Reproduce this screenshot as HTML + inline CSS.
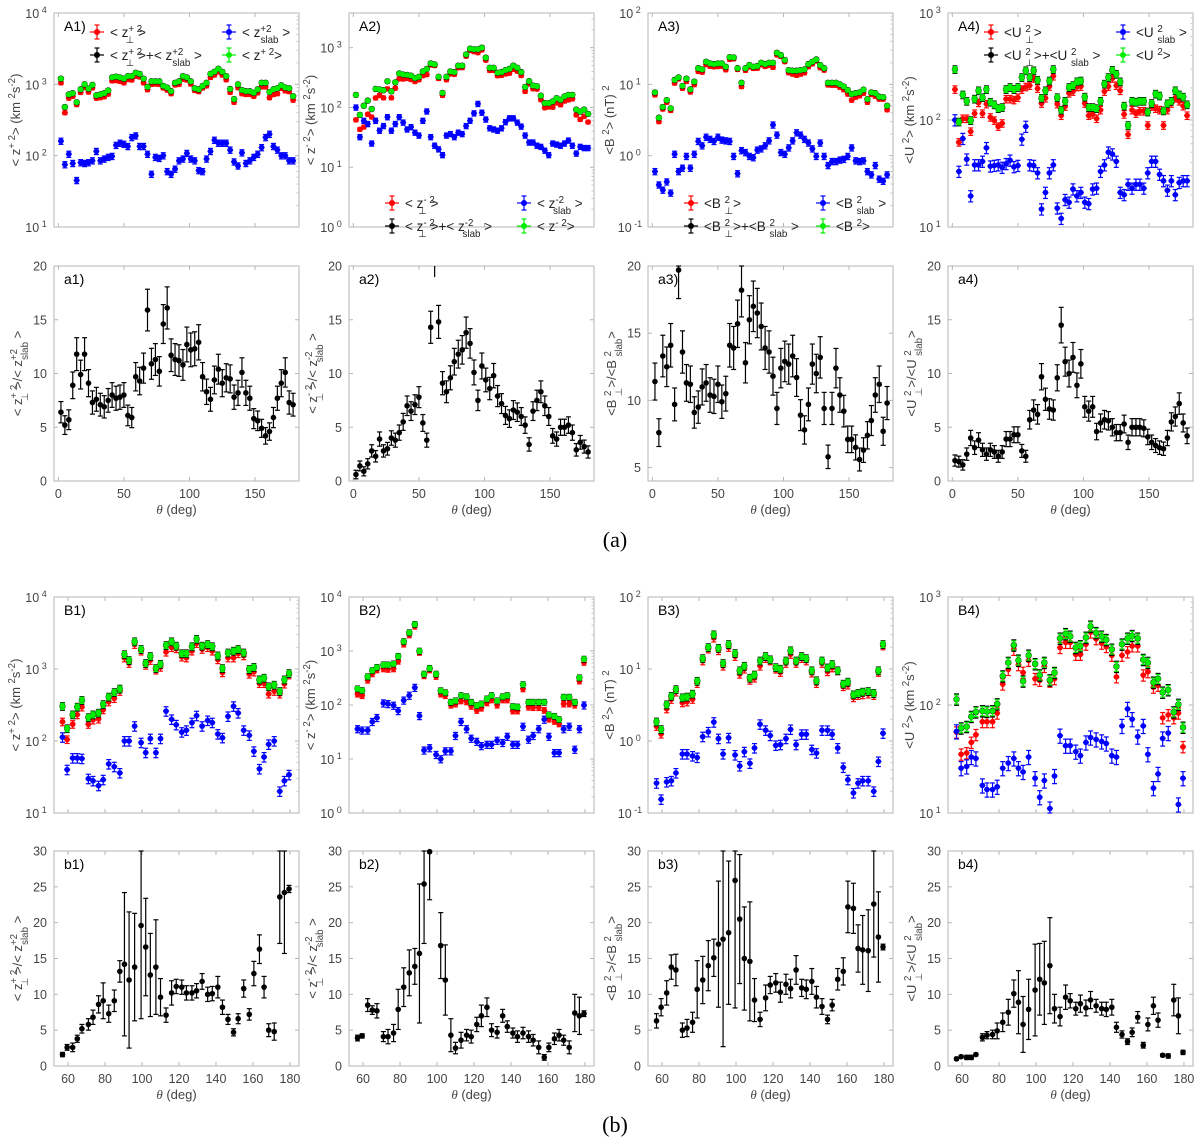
<!DOCTYPE html>
<html><head><meta charset="utf-8">
<style>
html,body{margin:0;padding:0;background:#fff;}
svg{display:block;font-family:"Liberation Sans",sans-serif;}
.tk{font-size:12.5px;fill:#444;}
.yl{font-size:13px;fill:#444;}
.pl{font-size:14px;fill:#000;}
.lg{font-size:13.5px;fill:#222;}
.cap{font-family:"Liberation Serif",serif;font-size:22px;fill:#000;}
</style></head>
<body>
<svg id="fig" width="1200" height="1142" viewBox="0 0 1200 1142" xmlns="http://www.w3.org/2000/svg">
<text class="cap" x="615" y="547" text-anchor="middle">(a)</text>
<text class="cap" x="615" y="1132" text-anchor="middle">(b)</text>
</svg>
<script>
// ---------- data ----------
const thetaA = [2,5,8,11,14,17,20,23,26,29,32,35,38,41,44,47,50,53,56,59,62,65,68,71,74,77,80,83,86,89,92,95,98,101,104,107,110,113,116,119,122,125,128,131,134,137,140,143,146,149,152,155,158,161,164,167,170,173,176,179];
const thetaB = [57,59.5,62.5,65,67.5,71,73.5,76.5,79,82,85,88,90.5,93,96,99.5,102,104.5,107.5,110,113,116,118.5,121.5,124,127,129.5,132.5,135.5,138,141,143.5,146.5,149.5,152,155,158,160.5,163.5,166,168.5,171.5,174.5,177,179.5];

const A1perp = [1050,400,640,680,520,770,900,780,890,640,650,670,730,1120,1130,1100,1050,1170,1150,1300,1270,1050,840,1000,1010,1000,890,830,740,980,1000,1180,1150,1010,820,790,890,950,1250,1350,1500,1350,1160,770,560,900,740,720,720,680,760,920,920,650,720,740,880,810,790,600];
const A1slab = [160,75,105,78,45,80,78,80,85,115,85,90,95,98,140,150,145,135,180,190,135,135,105,55,95,92,100,60,55,65,85,90,108,90,85,62,60,90,115,165,150,150,150,120,82,72,110,78,85,95,105,130,180,200,135,120,100,100,85,85];
const A1tot = [1200,480,720,750,560,850,1000,870,980,700,720,750,820,1250,1280,1250,1200,1300,1300,1450,1400,1200,920,1100,1100,1100,950,900,800,1050,1100,1300,1250,1100,880,850,950,1050,1400,1500,1650,1500,1300,860,620,1000,830,800,800,760,850,1050,1050,780,850,880,970,900,880,680];

const A2perp = [62,43,47,77,69,144,159,145,205,145,210,301,299,307,293,272,291,340,354,513,502,305,159,291,364,358,462,464,721,900,860,825,918,617,415,417,339,345,363,374,434,404,342,186,249,206,203,135,99,102,101,119,111,128,134,139,75,63,71,57];
const A2slab = [100,32,60,53,25,60,41,49,69,41,53,69,56,43,47,38,34,60,86,32,23,20,16,34,36,32,38,36,49,60,80,115,82,63,45,43,41,45,57,66,66,56,48,34,26,26,23,22,19,16,25,24,23,25,28,23,17,22,21,21];
const A2tot = [162,75,107,130,94,204,200,194,274,186,263,370,355,350,340,310,325,400,440,545,525,325,175,325,400,390,500,500,770,960,940,940,1000,680,460,460,380,390,420,440,500,460,390,220,275,232,226,157,118,118,126,143,134,153,162,162,92,85,92,78];

const A3perp = [7.1,3.0,4.5,5.6,4.3,10.4,11.9,8.8,11,7.8,9.9,15.2,14.8,18.9,17.9,17.6,17.8,17.9,16,22.4,22.8,16.2,9.3,15.7,17.6,16.7,16.8,18.8,17.8,18.4,17.3,25.8,24.6,20.8,14.5,13.9,13.4,13.9,14.5,17.7,19.4,21.3,17.1,15.8,9.8,9.7,9.7,9.1,8.4,7.3,6,6.6,6.9,7.5,5.6,7.2,6.8,6.2,6.2,4.4];
const A3slab = [0.6,0.39,0.33,0.43,0.30,1.05,0.6,0.67,0.98,0.67,1.05,1.59,1.38,1.82,1.7,1.59,1.82,1.66,1.62,1.59,0.98,0.56,1.18,1.11,0.98,0.94,1.2,1.25,1.38,1.62,2.7,1.95,1.11,1.05,1.29,1.62,2.1,1.95,1.7,1.51,1.25,0.98,1.51,0.98,0.73,0.83,0.83,0.87,0.89,0.98,1.29,0.85,0.83,0.85,0.6,0.54,0.73,0.47,0.44,0.54];
const A3tot = [7.7,3.4,4.8,6.0,4.6,11.5,12.5,9.5,12,8.5,10.9,16.8,16.2,20.7,19.6,19.2,19.6,19.6,17.6,24,23.8,16.8,10.5,16.8,18.6,17.6,18,20,19.2,20,20,27.7,25.7,21.9,15.8,15.5,15.5,15.8,16.2,19.2,20.7,22.3,18.6,16.8,10.5,10.5,10.5,10,9.3,8.3,7.3,7.5,7.7,8.4,6.2,7.7,7.5,6.7,6.6,5.0];

const A4perp = [193,62,103,103,78,115,145,115,141,106,99,87,93,157,157,154,162,193,204,210,245,197,143,160,206,257,141,110,134,178,185,204,206,143,110,113,103,124,185,206,245,210,188,113,73,124,115,121,121,89,134,128,124,89,124,143,160,150,135,110];
const A4slab = [100,33,67,43,19.5,38,38,41,55,37,37.5,38,36,39,42,36.5,37.5,66,87,38,37.5,32,14.7,21,32,38,15,12,18,17,22.6,19.5,21,17,16.5,22.6,23,33,38,50,48,41,21,20,25,23,25,25,23,32,41,41,31,27,22,27,20,26,27,27];
const A4tot = [297,96,172,150,99,157,188,162,193,147,139,128,131,193,202,193,202,250,289,250,289,236,160,188,232,297,162,124,150,202,210,228,232,164,131,131,128,150,217,250,292,268,228,135,89,150,147,150,150,119,143,175,168,122,142,150,188,172,164,139];

const a1ratio = [6.4,5.2,5.7,8.9,11.8,9.9,11.8,9.1,7.3,7.6,7.1,6.9,7.5,8.0,7.7,7.8,8.0,6.1,5.9,9.7,9.3,10.5,15.9,10.9,11.3,10.2,14.6,16.1,11.7,11.3,11.2,10.8,12.7,12.2,12.3,12.9,9.7,8.3,7.6,9.4,10.4,9.1,9.6,9.5,7.8,8.2,10.1,8.2,7.7,5.8,5.6,4.9,4.2,4.6,5.9,7.7,9.1,10.1,7.3,7.1];
const a2ratio = [0.6,1.4,0.9,1.6,2.8,2.3,3.9,2.8,3.0,4.0,3.8,4.5,5.5,7.0,6.5,7.1,7.8,5.4,3.8,14.3,21,14.8,9.1,8.3,9.6,11.1,11.8,12.2,13.8,12.8,10.1,7.5,10.7,9.4,8.6,9.8,7.9,7.2,6.1,5.8,6.6,6.4,6.0,5.2,3.4,6.5,7.5,8.3,7.0,6.0,4.2,3.9,5.0,5.0,5.2,4.5,2.9,3.6,3.2,2.7];
const a3ratio = [11.4,7.6,13.3,12.5,14.1,9.7,19.7,13.6,11.3,11.2,9.1,9.5,11.0,11.3,10.4,10.3,11.2,9.9,10.5,14.1,13.9,15.7,18.2,12.8,16.0,17.0,16.5,15.5,13.9,13.6,11.8,9.4,12.4,12.9,12.7,13.3,11.7,8.9,7.8,9.7,12.7,12.0,13.2,9.4,5.8,9.4,12.4,10.4,9.2,7.1,7.1,6.5,5.6,6.3,7.4,8.5,10.4,11.2,7.7,9.8];
const a4ratio = [1.9,1.8,1.5,2.5,4.0,3.1,3.8,2.9,2.5,2.9,2.7,2.3,2.7,3.9,3.9,4.3,4.3,2.8,2.3,5.7,6.6,6.2,9.7,7.6,6.7,6.6,9.6,14.5,11.1,10.0,11.5,8.9,10.9,6.9,6.5,6.9,4.6,5.4,5.7,5.6,5.0,4.5,4.5,5.3,3.6,5.0,5.0,5.0,4.9,4.1,3.6,3.3,3.1,3.0,4.0,5.5,6.0,7.2,5.4,4.2];

const B1perp = [185,105,171,232,297,171,196,202,272,350,390,490,1430,1200,2200,1780,1130,1320,970,1060,1720,1990,1920,1470,1430,1780,2270,1880,1990,1780,1350,890,1430,1430,1640,1530,850,910,630,630,450,490,450,620,830];
const B1slab = [113,40,58,58,57,30,28,24,29,48,44,36,100,100,161,95,69,108,69,108,260,200,168,133,141,180,225,161,193,180,125,111,220,304,245,141,120,72,41,60,90,100,20,28,34];
const B1tot = [304,149,232,297,368,212,232,245,322,410,474,530,1590,1320,2400,1880,1200,1500,1020,1170,2130,2400,2090,1640,1640,2050,2600,2090,2200,2050,1530,1020,1680,1780,1880,1680,990,1060,710,750,570,600,490,710,870];

const B2perp = [160,150,290,380,450,470,460,470,650,1350,2000,2900,950,350,450,340,160,150,100,105,120,115,95,80,88,110,125,100,125,125,78,78,200,92,90,90,80,55,50,45,105,105,100,280,620];
const B2slab = [36,34,34,49,58,108,105,98,78,122,150,210,63,14.5,16,12,10,14,14,27,49,36,24,21,17.5,18.5,18.5,22,20,26,18.5,18.5,40,23,27,36,54,26,13,13,36,40,15,36,99];
const B2tot = [200,186,335,435,500,555,555,580,800,1500,2190,3120,1000,375,480,375,185,170,113,120,150,143,113,98,105,130,150,120,143,150,94,92,240,113,113,113,113,66,62,54,140,140,113,320,710];

const B3perp = [1.6,1.25,2.8,3.8,4.8,3.4,3.5,3.8,6.3,13,19,27,18,11,20,15,8.5,10,7,7.5,11,14,13,10,9,12,16,12,14,13,8.8,6.3,12,9.2,10.4,9.5,5.7,6.0,4.0,4.3,4.4,4.5,4.3,9.0,21];
const B3slab = [0.26,0.155,0.27,0.28,0.36,0.66,0.66,0.62,0.59,1.15,1.34,1.83,1.08,0.66,1.11,0.64,0.45,0.71,0.49,0.8,1.71,1.41,1.19,0.87,0.89,1.08,1.45,0.89,1.24,1.24,0.76,0.68,1.41,1.41,1.24,0.8,0.43,0.29,0.19,0.26,0.28,0.28,0.2,0.52,1.28];
const B3tot = [1.85,1.45,3.2,4.2,5.2,4.0,4.1,4.5,6.8,14,20,30,19.5,12,22,16.5,9.5,11,7.5,8.3,13,15,13.5,10.5,10,13,18,13,15,14,9.5,6.9,13,10.4,11.6,9.5,6.2,6.6,4.4,4.6,4.8,4.9,4.6,9.5,22];

const B4perp = [56,35,36,45,53,70,70,70,84,156,213,327,236,200,259,175,169,227,166,175,340,379,379,294,294,365,473,410,373,347,288,182,288,310,352,352,189,203,146,152,76,81,76,84,41];
const B4slab = [57,26,27,33,32,18,16.5,16.5,17.5,26,29,32,26,24,33,21,14,20,11,22,52,42,42,37,34,45,50,48,46,44,34,33,64,92,74,51,64,35,17,23,49,55,null,12,21];
const B4tot = [113,61,63,78,86,88,87,88,102,185,247,358,259,166,288,240,189,247,170,199,414,456,432,340,352,422,535,466,432,402,327,227,365,414,438,414,263,247,162,175,131,138,86,101,62];

const b1ratio = [1.6,2.6,2.6,3.8,5.2,5.8,6.8,8.6,9.1,7.3,9.1,13.2,14.2,12.0,13.8,19.6,16.6,12.7,13.8,9.6,7.1,10.2,11.1,11.0,10.2,10.2,10.5,11.8,10.0,10.1,11.0,8.2,6.5,4.7,6.6,10.8,7.2,12.9,16.3,11.0,5.0,4.8,23.6,24.2,24.7];
const b2ratio = [3.9,4.2,8.5,7.8,7.7,4.1,4.1,4.6,7.9,11.0,13.0,13.9,15.7,25.4,29.9,null,16.8,12.0,4.3,2.5,3.6,4.3,4.1,5.8,7.0,8.2,5.0,4.7,7.0,5.5,4.6,4.1,4.6,4.1,3.6,2.6,1.2,2.6,3.8,4.3,3.6,2.6,7.4,7.0,7.3];
const b3ratio = [6.3,8.2,10.2,13.8,13.4,5.0,5.3,6.1,10.7,12.0,14.0,15.1,17.0,17.7,18.6,25.9,20.5,15.0,14.6,9.2,6.5,9.5,11.3,11.6,10.3,11.4,10.8,13.4,10.9,10.7,11.8,9.6,8.3,6.5,8.5,12.1,13.2,22.2,22.0,16.4,16.2,16.1,22.6,18.0,16.6];
const b4ratio = [1.0,1.3,1.2,1.2,1.6,4.0,4.3,4.4,4.9,6.1,7.5,10.1,8.9,5.8,7.9,10.6,12.1,11.6,14.0,8.0,6.9,9.6,9.1,8.0,8.7,8.1,9.2,8.4,8.0,7.9,8.2,5.4,4.4,3.4,4.7,6.8,2.9,5.8,8.4,6.4,1.5,1.4,9.2,7.0,1.9];

const b1err = [0.3,0.4,0.6,0.5,0.6,0.8,1.0,1.2,2.5,1.2,1.5,1.5,10,9.5,7.5,13,6.8,5.8,6.6,2.6,1.0,1.7,1.0,1.0,1.0,1.0,1.0,1.1,1.0,1.0,1.5,1.0,0.7,0.5,0.7,1.2,0.8,1.7,2.0,1.5,0.9,1.2,6.5,8.5,0.5];
const b2err = [0.4,0.3,0.9,0.6,1.0,0.7,1.0,1.2,2.8,2.7,3.2,2.5,9.7,8.3,6.7,null,4.6,4.9,2.3,0.8,1.1,0.8,0.9,1.0,1.5,1.3,0.9,0.8,0.9,0.8,0.7,0.8,0.8,0.8,0.8,0.9,0.4,0.6,0.8,0.8,0.7,0.9,2.6,2.6,0.4];
const b3err = [1,1.2,1.7,1.7,2.2,1,1.2,1.4,4,3.3,3.5,2.6,8.8,15,10,17.8,9,7.2,8.3,3,1,1.8,1.2,1.3,1.4,1.4,1.3,2,1.2,1.3,1.8,1.5,1.1,0.6,0.8,1.5,1.9,3.6,3.5,3.3,4.8,5.7,7.4,6.3,0.4];
const b4err = [0.2,0.2,0.3,0.3,0.2,0.5,0.5,0.6,1.1,1.3,1.8,1.9,4.4,3.9,4.2,6.4,5,5.8,6.7,2,1.3,1.7,1,0.9,1.2,1.1,1.2,0.9,0.9,1,1.1,0.7,0.5,0.4,0.6,0.8,0.4,0.9,1.2,1,0.2,0.3,2.2,2.5,0.3];

const logTicksA = [[1,4],[0,3.58],[-1,2],[1,3]];
const ratioTicksA = ['0','5','10','15','20'];
const ratioTicksA3 = ['5','10','15','20'];
const ratioTicksB = ['0','5','10','15','20','25','30'];
const xTicksA = ['0','50','100','150'];
const xTicksB = ['60','80','100','120','140','160','180'];

// ---------- drawing ----------
const NS = 'http://www.w3.org/2000/svg';
const svg = document.getElementById('fig');
function mk(tag, attrs, parent){
  const e = document.createElementNS(NS, tag);
  for (const k in attrs) e.setAttribute(k, attrs[k]);
  (parent||svg).appendChild(e);
  return e;
}
const colL = [54,349,648,948], W = 245;
const rows = {A:[13,227], a:[266,481], B:[597,813], b:[851,1066]};

// rich text: parts [text, 'n'|'sup'|'sub']; a sub right after a sup is stacked under it
function rich(el, parts, fs){
  let prev = null;
  parts.forEach(p=>{
    const t = mk('tspan', {}, el);
    if (p[1]==='sup'){ t.setAttribute('baseline-shift','super'); t.setAttribute('font-size', fs*0.72); }
    if (p[1]==='sub'){
      t.setAttribute('baseline-shift','sub'); t.setAttribute('font-size', fs*0.72);
      if (prev && prev[1]==='sup'){ t.setAttribute('dx', -(prev[0].length*fs*0.72*0.56)); }
    }
    t.textContent = p[0];
    prev = p;
  });
}

function makeAxes(name, x0, y0, y1, xdom, ydom, isLog){
  const xs = v => x0 + (v - xdom[0])/(xdom[1]-xdom[0])*W;
  const ys = isLog ? (v => y1 - (Math.log10(v)-ydom[0])/(ydom[1]-ydom[0])*(y1-y0))
                   : (v => y1 - (v-ydom[0])/(ydom[1]-ydom[0])*(y1-y0));
  const g = mk('g', {});
  
  
  const fr = mk('rect', {x:x0, y:y0, width:W, height:y1-y0, fill:'none', stroke:'#b5b5b5', 'stroke-width':1}, g);
  
  
  return {xs, ys, g};
}

function yLogTicks(ax, x0, y0, y1, lo, hi){
  for (let d = Math.ceil(lo); d <= Math.floor(hi); d++){
    const y = ax.ys(Math.pow(10,d));
    mk('line',{x1:x0,x2:x0+4,y1:y,y2:y,stroke:'#b5b5b5'},ax.g);
    mk('line',{x1:x0+W,x2:x0+W-4,y1:y,y2:y,stroke:'#b5b5b5'},ax.g);
    const t = mk('text',{x:x0-18,y:y+5,'text-anchor':'middle',class:'tk'},ax.g);
    
    
    rich(t, [['10','n'],[' '+d,'sup']], 12.5);
    for (let m=2;m<=9;m++){
      const v = Math.pow(10,d)*m;
      if (Math.log10(v) > hi) break;
      const ym = ax.ys(v);
      mk('line',{x1:x0+W,x2:x0+W-2.5,y1:ym,y2:ym,stroke:'#c8c8c8'},ax.g);
    }
  }
}
function yLinTicks(ax, x0, labels){
  labels.forEach(l=>{
    const y = ax.ys(parseFloat(l));
    mk('line',{x1:x0,x2:x0+4,y1:y,y2:y,stroke:'#b5b5b5'},ax.g);
    mk('line',{x1:x0+W,x2:x0+W-4,y1:y,y2:y,stroke:'#b5b5b5'},ax.g);
    const t = mk('text',{x:x0-7,y:y+4.5,'text-anchor':'end',class:'tk'},ax.g);
    
    
    t.textContent = l;
  });
}
function xTicks(ax, y0, y1, labels, withText){
  labels.forEach(l=>{
    const x = ax.xs(parseFloat(l));
    mk('line',{x1:x,x2:x,y1:y1,y2:y1-4,stroke:'#b5b5b5'},ax.g);
    mk('line',{x1:x,x2:x,y1:y0,y2:y0+4,stroke:'#b5b5b5'},ax.g);
    if (withText){
      const t = mk('text',{x:x,y:y1+17,'text-anchor':'middle',class:'tk'},ax.g);
      
      
      t.textContent = l;
    }
  });
}
function xTitle(ax, x0, y1){
  const t = mk('text',{x:x0+W/2,y:y1+33,'text-anchor':'middle',class:'yl'},ax.g);
  
  
  const i = mk('tspan',{'font-style':'italic','font-family':'Liberation Serif, serif'},t);
  i.textContent = 'θ';
  const r = mk('tspan',{},t);
  r.textContent = ' (deg)';
}
function yTitle(ax, x, yc, parts){
  const t = mk('text',{x:x,y:yc,'text-anchor':'middle',class:'yl',transform:'rotate(-90 '+x+' '+yc+')'},ax.g);
  
  
  rich(t, parts, 13.5);
}
function panelLabel(ax, x0, y0, s){
  const t = mk('text',{x:x0+10,y:y0+18,class:'pl'},ax.g);
  
  
  t.textContent = s;
}

function drawPoint(g, x, y, yl, yh, col, r, hx, name){
  const p = mk('g',{},g);
  
  
  mk('line',{x1:x,x2:x,y1:yl,y2:yh,stroke:col,'stroke-width':1.2},p);
  mk('line',{x1:x-2.5,x2:x+2.5,y1:yl,y2:yl,stroke:col,'stroke-width':1.2},p);
  mk('line',{x1:x-2.5,x2:x+2.5,y1:yh,y2:yh,stroke:col,'stroke-width':1.2},p);
  if (hx) mk('line',{x1:x-hx,x2:x+hx,y1:y,y2:y,stroke:col,'stroke-width':1.2},p);
  mk('circle',{cx:x,cy:y,r:r,fill:col},p);
}

function series(ax, th, vals, col, r, errFrac, ydomLog, name, clipY){
  const lo = Math.pow(10,ydomLog[0]), hi = Math.pow(10,ydomLog[1]);
  th.forEach((t,i)=>{
    const v = vals[i];
    if (v===null || v===undefined || v<lo || v>hi) return;
    const x = ax.xs(t), y = ax.ys(v);
    const yl = Math.min(clipY[1], ax.ys(Math.max(lo, v*(1-errFrac))));
    const yh = Math.max(clipY[0], ax.ys(Math.min(hi, v*(1+errFrac))));
    drawPoint(ax.g, x, y, yl, yh, col, r, 3, name);
  });
}
function ratioSeries(ax, th, vals, errs, ydom, errFrac, y0, y1, name){
  th.forEach((t,i)=>{
    const v = vals[i];
    if (v===null || v===undefined || v<ydom[0]) return;
    const x = ax.xs(t);
    const e = errs ? (errs[i]||0.3) : v*errFrac + 0.35;
    const yl = Math.min(y1, ax.ys(Math.max(ydom[0], v-e)));
    const yh = Math.max(y0, ax.ys(v+e));
    if (v>ydom[1]){ mk('line',{x1:x,x2:x,y1:yl,y2:y0,stroke:'#000','stroke-width':1.2},ax.g); return; }
    drawPoint(ax.g, x, ax.ys(v), yl, yh, '#000', 2.8, 0, name);
  });
}

function legendItem(g, x, y, col, parts){
  const it = mk('g',{},g);
  
  
  drawPoint(it, x, y, y+7, y-7, col, 3, 7, 'legend-marker');
  const t = mk('text',{x:x+13,y:y+5,class:'lg'},it);
  rich(t, parts, 13.5);
}

// ----- top-row configs -----
const upperCfg = [
  {row:'A', th:thetaA, xd:[-3.3,183.5], d:logTicksA[0], perp:A1perp, slab:A1slab, tot:A1tot, lab:'A1)', err:[0.06,0.1],
   yt:[['< z','n'],['+ 2','sup'],['> (km ','n'],['2','sup'],['s','n'],['-2','sup'],[')','n']], leg:'top', sym:'z', sgn:'+'},
  {row:'A', th:thetaA, xd:[-3.3,183.5], d:logTicksA[1], perp:A2perp, slab:A2slab, tot:A2tot, lab:'A2)', err:[0.07,0.1],
   yt:[['< z','n'],['- 2','sup'],['> (km ','n'],['2','sup'],['s','n'],['-2','sup'],[')','n']], leg:'bottom', sym:'z', sgn:'-'},
  {row:'A', th:thetaA, xd:[-3.3,183.5], d:logTicksA[2], perp:A3perp, slab:A3slab, tot:A3tot, lab:'A3)', err:[0.06,0.1],
   yt:[['<B ','n'],['2','sup'],['> (nT) ','n'],['2','sup']], leg:'bottom', sym:'B'},
  {row:'A', th:thetaA, xd:[-3.3,183.5], d:logTicksA[3], perp:A4perp, slab:A4slab, tot:A4tot, lab:'A4)', err:[0.08,0.12],
   yt:[['<U ','n'],['2','sup'],['> (km ','n'],['2','sup'],['s','n'],['-2','sup'],[')','n']], leg:'top', sym:'U'},
  {row:'B', th:thetaB, xd:[52.4,184.9], d:[1,4], perp:B1perp, slab:B1slab, tot:B1tot, lab:'B1)', err:[0.12,0.15],
   yt:[['< z','n'],['+ 2','sup'],['> (km ','n'],['2','sup'],['s','n'],['-2','sup'],[')','n']]},
  {row:'B', th:thetaB, xd:[52.4,184.9], d:[0,4], perp:B2perp, slab:B2slab, tot:B2tot, lab:'B2)', err:[0.12,0.15],
   yt:[['< z','n'],['- 2','sup'],['> (km ','n'],['2','sup'],['s','n'],['-2','sup'],[')','n']]},
  {row:'B', th:thetaB, xd:[52.4,184.9], d:[-1,2], perp:B3perp, slab:B3slab, tot:B3tot, lab:'B3)', err:[0.12,0.15],
   yt:[['<B ','n'],['2','sup'],['> (nT) ','n'],['2','sup']]},
  {row:'B', th:thetaB, xd:[52.4,184.9], d:[1,3], perp:B4perp, slab:B4slab, tot:B4tot, lab:'B4)', err:[0.12,0.15],
   yt:[['<U ','n'],['2','sup'],['> (km ','n'],['2','sup'],['s','n'],['-2','sup'],[')','n']]}
];

upperCfg.forEach((c,i)=>{
  const x0 = colL[i%4], [y0,y1] = rows[c.row];
  const ax = makeAxes(c.lab.replace(')','').toLowerCase()+'-upper', x0, y0, y1, c.xd, c.d, true);
  yLogTicks(ax, x0, y0, y1, c.d[0], c.d[1]);
  xTicks(ax, y0, y1, c.row==='A'?xTicksA:xTicksB, false);
  yTitle(ax, x0-34, (y0+y1)/2, c.yt);
  panelLabel(ax, x0, y0, c.lab);
  series(ax, c.th, c.perp, '#ff0000', 2.8, c.err[0], c.d, 'perp-point', [y0,y1]);
  series(ax, c.th, c.slab, '#0000ff', 2.8, c.err[1], c.d, 'slab-point', [y0,y1]);
  series(ax, c.th, c.tot, '#000000', 3.2, c.err[0], c.d, 'sum-point', [y0,y1]);
  series(ax, c.th, c.tot, '#00ee00', 2.8, c.err[0]*0.8, c.d, 'total-point', [y0,y1]);
  if (c.leg){
    const ly = c.leg==='top' ? y0+19 : y1-24;
    const lx1 = x0+43, lx2 = x0+175;
    const s = c.sym;
    let p1,p2,p3,p4;
    if (s==='z'){
      const sg=c.sgn;
      p1=[['< z','n'],[sg+' 2','sup'],['⊥','sub'],['  >','n']];
      p2=[['< z','n'],[sg+'2','sup'],['slab','sub'],[' >','n']];
      p3=[['< z','n'],[sg+' 2','sup'],['⊥','sub'],['  >+<  z','n'],[sg+'2','sup'],['slab','sub'],[' >','n']];
      p4=[['< z','n'],[sg+' 2','sup'],['>','n']];
    } else {
      p1=[['<'+s+' ','n'],['2','sup'],['⊥','sub'],['>','n']];
      p2=[['<'+s+' ','n'],['2','sup'],['slab','sub'],[' >','n']];
      p3=[['<'+s+' ','n'],['2','sup'],['⊥','sub'],['>+<'+s+'  ','n'],['2','sup'],['slab','sub'],[' >','n']];
      p4=[['<'+s+' ','n'],['2','sup'],['>','n']];
    }
    legendItem(ax.g, lx1, ly, '#ff0000', p1);
    legendItem(ax.g, lx2, ly, '#0000ff', p2);
    legendItem(ax.g, lx1, ly+23, '#000000', p3);
    legendItem(ax.g, lx2, ly+23, '#00ee00', p4);
  }
});

// ----- ratio configs -----
const ratioCfg = [
  {row:'a', th:thetaA, xd:[-3.3,183.5], yd:[0,20], tl:ratioTicksA, v:a1ratio, er:null, lab:'a1)', e:0.1,
   yt:[['< z','n'],['+ 2','sup'],['⊥','sub'],['  >/<  z','n'],['+2','sup'],['slab','sub'],[' >','n']]},
  {row:'a', th:thetaA, xd:[-3.3,183.5], yd:[0,20], tl:ratioTicksA, v:a2ratio, er:null, lab:'a2)', e:0.08,
   yt:[['< z','n'],['- 2','sup'],['⊥','sub'],['  >/<  z','n'],['-2','sup'],['slab','sub'],[' >','n']]},
  {row:'a', th:thetaA, xd:[-3.3,183.5], yd:[4,20], tl:ratioTicksA3, v:a3ratio, er:null, lab:'a3)', e:0.09,
   yt:[['<B ','n'],['2','sup'],['⊥','sub'],['>/<B ','n'],['2','sup'],['slab','sub'],['>','n']]},
  {row:'a', th:thetaA, xd:[-3.3,183.5], yd:[0,20], tl:ratioTicksA, v:a4ratio, er:null, lab:'a4)', e:0.09,
   yt:[['<U ','n'],['2','sup'],['⊥','sub'],['>/<U ','n'],['2','sup'],['slab','sub'],['>','n']]},
  {row:'b', th:thetaB, xd:[52.4,184.9], yd:[0,30], tl:ratioTicksB, v:b1ratio, er:b1err, lab:'b1)', e:0.22,
   yt:[['< z','n'],['+ 2','sup'],['⊥','sub'],['  >/<  z','n'],['+2','sup'],['slab','sub'],[' >','n']]},
  {row:'b', th:thetaB, xd:[52.4,184.9], yd:[0,30], tl:ratioTicksB, v:b2ratio, er:b2err, lab:'b2)', e:0.22,
   yt:[['< z','n'],['- 2','sup'],['⊥','sub'],['  >/<  z','n'],['-2','sup'],['slab','sub'],[' >','n']]},
  {row:'b', th:thetaB, xd:[52.4,184.9], yd:[0,30], tl:ratioTicksB, v:b3ratio, er:b3err, lab:'b3)', e:0.22,
   yt:[['<B ','n'],['2','sup'],['⊥','sub'],['>/<B ','n'],['2','sup'],['slab','sub'],['>','n']]},
  {row:'b', th:thetaB, xd:[52.4,184.9], yd:[0,30], tl:ratioTicksB, v:b4ratio, er:b4err, lab:'b4)', e:0.2,
   yt:[['<U ','n'],['2','sup'],['⊥','sub'],['>/<U ','n'],['2','sup'],['slab','sub'],['>','n']]}
];
ratioCfg.forEach((c,i)=>{
  const x0 = colL[i%4], [y0,y1] = rows[c.row];
  const ax = makeAxes(c.lab.replace(')','')+'-ratio', x0, y0, y1, c.xd, c.yd, false);
  yLinTicks(ax, x0, c.tl);
  xTicks(ax, y0, y1, c.row==='a'?xTicksA:xTicksB, true);
  xTitle(ax, x0, y1);
  yTitle(ax, x0-32, (y0+y1)/2, c.yt);
  panelLabel(ax, x0, y0, c.lab);
  ratioSeries(ax, c.th, c.v, c.er, c.yd, c.e, y0, y1, 'ratio-point');
});
</script>
</body></html>
